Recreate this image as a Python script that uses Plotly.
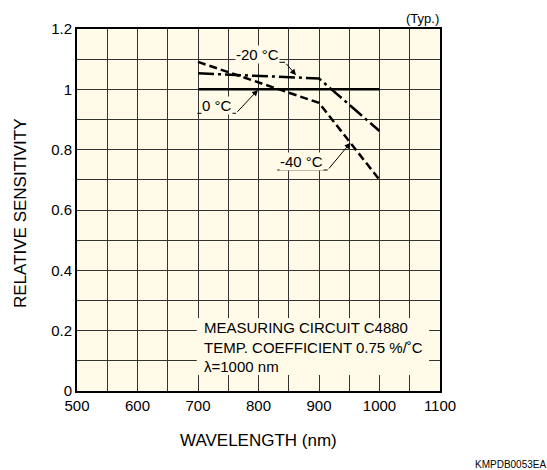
import plotly.graph_objects as go

# Data
wl_0c = [700, 1000]
sens_0c = [1.0, 1.0]
wl_m20c = [700, 900, 1000]
sens_m20c = [1.053, 1.036, 0.862]
wl_m40c = [700, 900, 1000]
sens_m40c = [1.091, 0.955, 0.700]

x_ticks = [500, 600, 700, 800, 900, 1000, 1100]
y_ticks = [0, 0.2, 0.4, 0.6, 0.8, 1.0, 1.2]
y_tick_text = ["0", "0.2", "0.4", "0.6", "0.8", "1", "1.2"]

FONT = "Liberation Sans, Arial, sans-serif"
BG = "#FFFBE8"

fig = go.Figure()
fig.add_trace(go.Scatter(x=wl_0c, y=sens_0c, mode="lines",
                         line=dict(color="black", width=2.5), name="0 °C"))
fig.add_trace(go.Scatter(x=wl_m20c, y=sens_m20c, mode="lines",
                         line=dict(color="black", width=2.5, dash="16px,4px,3px,4px"), name="-20 °C"))
fig.add_trace(go.Scatter(x=wl_m40c, y=sens_m40c, mode="lines",
                         line=dict(color="black", width=2.5, dash="8px,4px"), name="-40 °C"))

# label leaders (underline + arrow)
labels = [
    ("-20 °C", 799, 1.117, 762.8, 843.8, 1.0897, 862, 1.047),
    ("0 °C", 731, 0.948, 698.9, 762.8, 0.9206, 799, 0.998),
    ("-40 °C", 871, 0.760, 831.1, 914.4, 0.7326, 952, 0.823),
]
for txt, tx, ty, ux0, ux1, uy, ax_, ay_ in labels:
    fig.add_shape(type="line", x0=ux0, x1=ux1, y0=uy, y1=uy,
                  line=dict(color="black", width=1), layer="above")
    fig.add_annotation(x=ax_, y=ay_, ax=ux1, ay=uy, axref="x", ayref="y",
                       xref="x", yref="y", text="", showarrow=True,
                       arrowhead=2, arrowsize=1.2, arrowwidth=1, arrowcolor="black")
    fig.add_annotation(x=tx, y=ty, text=txt, showarrow=False,
                       font=dict(family=FONT, size=15, color="black"),
                       bgcolor=BG, borderpad=0)

# measuring-condition box
fig.add_shape(type="rect", x0=698, x1=1082, y0=0.053, y1=0.242,
              fillcolor=BG, line=dict(width=0), layer="above")
fig.add_annotation(x=706, y=0.1475, xanchor="left", yanchor="middle", align="left",
                   text="MEASURING CIRCUIT C4880<br>TEMP. COEFFICIENT 0.75 %/˚C<br>λ=1000 nm",
                   showarrow=False, font=dict(family=FONT, size=15, color="black"))

# axis titles and corner texts
fig.add_annotation(xref="paper", yref="paper", x=0.5, y=(391 - 440) / 362,
                   xanchor="center", yanchor="middle", text="WAVELENGTH (nm)",
                   showarrow=False, font=dict(family=FONT, size=17, color="black"))
fig.add_annotation(xref="paper", yref="paper", x=(20 - 77) / 363, y=(391 - 213) / 362,
                   xanchor="center", yanchor="middle", text="RELATIVE SENSITIVITY",
                   textangle=-90, showarrow=False,
                   font=dict(family=FONT, size=17, color="black"))
fig.add_annotation(xref="paper", yref="paper", x=(422.5 - 77) / 363, y=(391 - 18) / 362,
                   xanchor="center", yanchor="middle", text="(Typ.)", showarrow=False,
                   font=dict(family=FONT, size=13, color="black"))
fig.add_annotation(xref="paper", yref="paper", x=(510.5 - 77) / 363, y=(391 - 464) / 362,
                   xanchor="center", yanchor="middle", text="KMPDB0053EA", showarrow=False,
                   font=dict(family=FONT, size=10, color="black"))

fig.update_layout(
    width=547, height=470,
    margin=dict(l=77, r=107, t=29, b=79),
    paper_bgcolor="white", plot_bgcolor=BG,
    showlegend=False,
    font=dict(family=FONT, size=15, color="black"),
)
fig.update_xaxes(range=[500, 1100], tickvals=x_ticks, ticks="", showgrid=True,
                 gridcolor="#333", gridwidth=1, automargin=False,
                 minor=dict(dtick=50, tick0=500, showgrid=True, gridcolor="#333", gridwidth=1),
                 showline=True, linecolor="black", linewidth=2, mirror=True,
                 zeroline=False, tickfont=dict(size=15))
fig.update_yaxes(range=[0, 1.2], tickvals=y_ticks, ticktext=y_tick_text, ticks="",
                 showgrid=True, gridcolor="#333", gridwidth=1, automargin=False,
                 minor=dict(dtick=0.1, tick0=0, showgrid=True, gridcolor="#333", gridwidth=1),
                 showline=True, linecolor="black", linewidth=2, mirror=True,
                 zeroline=False, tickfont=dict(size=15))

fig.write_html("out.html", config={"displayModeBar": False},
               post_script="document.body.style.margin='0';document.body.style.overflow='hidden';")
